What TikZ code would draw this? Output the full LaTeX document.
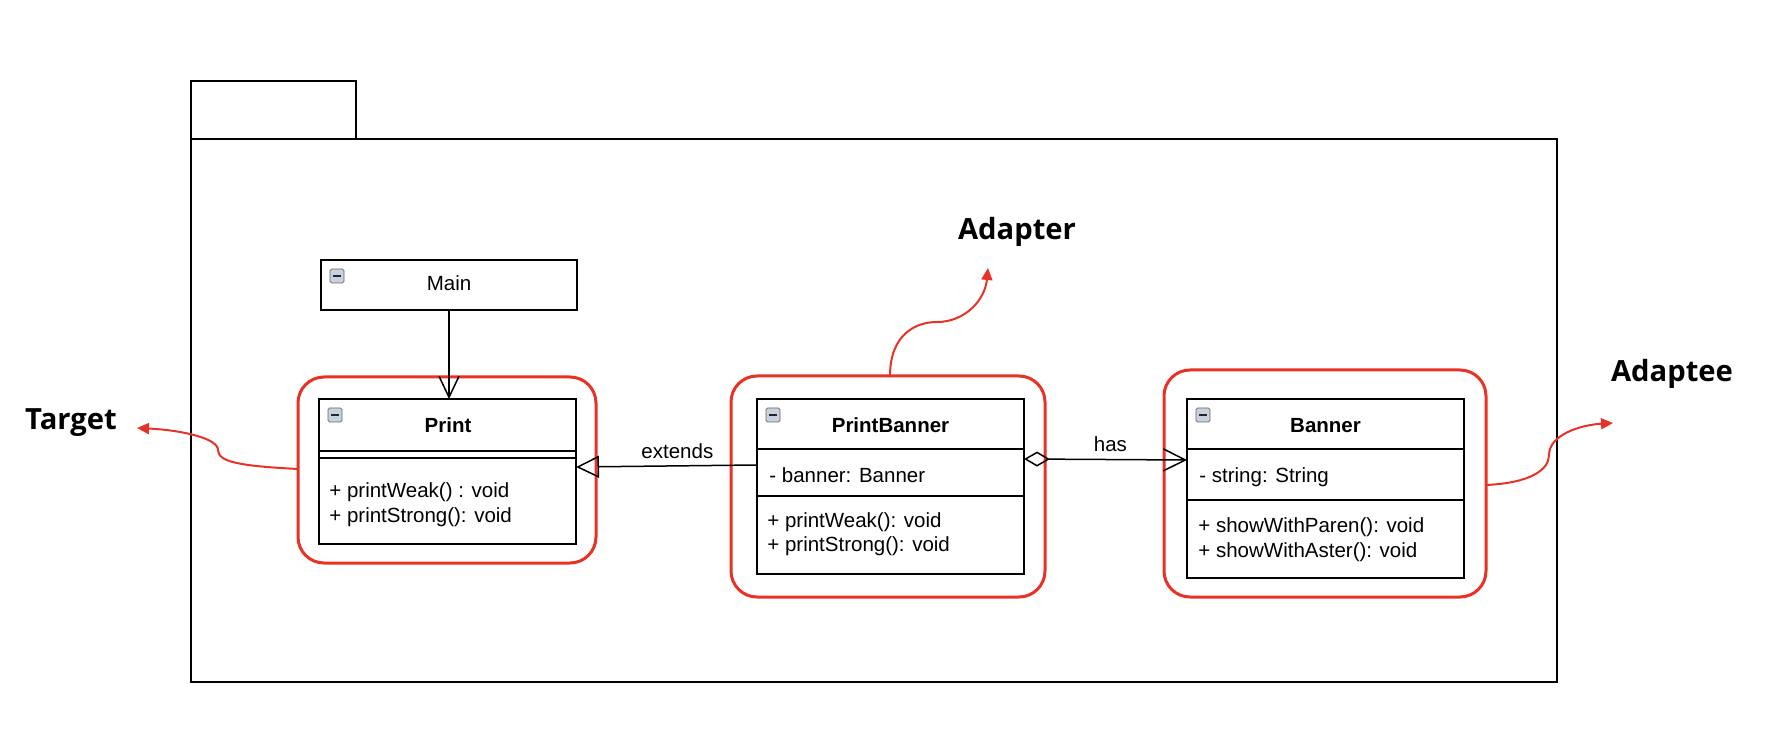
\documentclass[tikz,border=0pt]{standalone}
\usepackage{fontspec}
\setmainfont{Liberation Sans}
\newfontfamily\notefont{Open Sans}
\usetikzlibrary{arrows.meta,calc}
\definecolor{markred}{RGB}{232,50,38}
\definecolor{iconfill}{RGB}{200,210,222}

\begin{document}
\begin{tikzpicture}[x=0.5pt,y=-0.5pt,
	cls/.style={draw, line width=1pt, fill=white, anchor=north west, inner sep=0pt, outer sep=0pt, font=\fontsize{10.25}{12}\selectfont},
	redbox/.style={draw=markred, line width=1.5pt, rounded corners=13pt, anchor=north west, inner sep=0pt, outer sep=0pt},
	title/.style={anchor=base, inner sep=0pt, font=\fontsize{10.25}{12}\selectfont\bfseries},
	member/.style={anchor=base west, inner sep=0pt, font=\fontsize{10.25}{12}\selectfont},
	note/.style={font=\notefont\fontsize{14.6}{17}\selectfont\bfseries},
	link/.style={line width=0.75pt},
	pointer/.style={draw=markred, line width=1pt, -{Triangle[length=6pt,width=5.5pt]}},
	icon/.style={draw=gray!80!black, fill=iconfill, line width=0.4pt, rounded corners=0.8pt}]
	\useasboundingbox (0,0) rectangle (1778,732);
	% package
	\draw[line width=1pt] (191,139) rectangle (1557,682);
	\draw[line width=1pt] (191,139) |- (356,81) -- (356,139);
	% red frames
	\node[redbox, minimum width=149pt, minimum height=93pt] (printbox) at (298,377) {};
	\node[redbox, minimum width=157pt, minimum height=110.5pt] (pbbox) at (731,376) {};
	\node[redbox, minimum width=161pt, minimum height=113.5pt] (bannerbox) at (1164,370) {};
	% classes
	\node[cls, minimum width=128pt, minimum height=25pt] (main) at (321,260) {};
	\node[cls, minimum width=128.5pt, minimum height=72.5pt] (print) at (319,399) {};
	\node[cls, minimum width=133.5pt, minimum height=87.5pt] (pbanner) at (757,399) {};
	\node[cls, minimum width=138.5pt, minimum height=89.5pt] (banner) at (1187,399) {};
	\foreach \c/\d in {print/52, print/59, pbanner/50, pbanner/97, banner/50, banner/101}
		\draw[line width=1pt] ($(\c.north west)+(0,\d)$) -- ($(\c.north east)+(0,\d)$);
	\foreach \c in {main,print,pbanner,banner} {
		\draw[icon] ($(\c.north west)+(9,9)$) rectangle +(14,14);
		\draw[line width=1pt, gray!30!black] ($(\c.north west)+(12,16)$) -- +(8,0);
	}
	\node[member, anchor=base] (mainname) at (449,291) {Main};
	\node[title] (printname) at (448,433) {Print};
	\node[title] (pbname) at (890.5,433) {PrintBanner};
	\node[title] (bannername) at (1325.5,433) {Banner};
	% members
	\node[member] (printweak) at (329,497) {+ printWeak() : void};
	\node[member] (printstrong) at (329,523) {+ printStrong(): void};
	\node[member] (pbfield) at (769,483) {- banner: Banner};
	\node[member] (pbweak) at (767,528) {+ printWeak(): void};
	\node[member] (pbstrong) at (767,552) {+ printStrong(): void};
	\node[member] (bannerfield) at (1199,483) {- string: String};
	\node[member] (paren) at (1198,532) {+ showWithParen(): void};
	\node[member] (aster) at (1198,557) {+ showWithAster(): void};
	% relations
	\draw[link, -{Straight Barb[length=10.5pt,width=10pt]}] (main.south) -- (main.south |- print.north);
	\draw[link, -{Triangle[open,length=11.5pt,width=11pt]}] ($(pbanner.north west)+(0,66)$) -- node[pos=0.44, above, font=\fontsize{10.25}{12}\selectfont] {extends} ($(print.north east)+(0,68)$);
	\draw[link, {Diamond[open,length=13pt,width=7.5pt]}-{Straight Barb[length=11pt,width=11pt]}] ($(pbanner.north east)+(0,60)$) -- node[pos=0.53, above, font=\fontsize{10.25}{12}\selectfont] {has} ($(banner.north west)+(0,61)$);
	% role labels
	\node[note] (target) at (71,423) {Target};
	\node[note] (adapter) at (1017,232) {Adapter};
	\node[note] (adaptee) at (1672,374) {Adaptee};
	\coordinate (targettip) at (137,428);
	\coordinate (adaptertip) at (988,268);
	\coordinate (adapteetip) at (1613,423);
	\draw[pointer] ($(printbox.north west)+(0,92)$) .. controls (240,466) and (218,462) .. (218,450) .. controls (218,438) and (180,430) .. (targettip);
	\draw[pointer] ($(pbbox.north west)+(159,0)$) .. controls (890,335) and (915,322) .. (937,322) .. controls (965,322) and (985,300) .. (adaptertip);
	\draw[pointer] ($(bannerbox.north east)+(0,115)$) .. controls (1530,483) and (1549,470) .. (1549,455) .. controls (1549,435) and (1580,425) .. (adapteetip);
\end{tikzpicture}
\end{document}
